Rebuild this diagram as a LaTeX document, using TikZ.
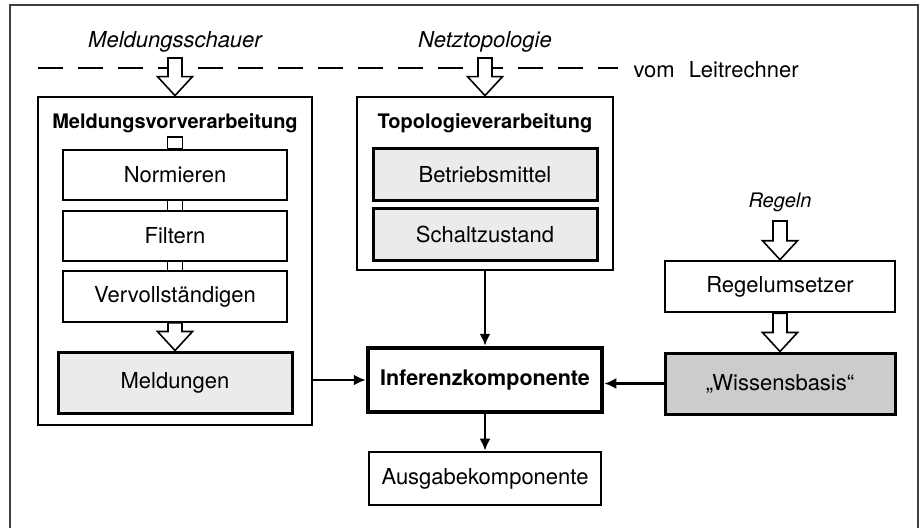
\documentclass[tikz,border=0pt]{standalone}
\usepackage{fontspec}
\setmainfont{TeX Gyre Heros}
\usetikzlibrary{arrows.meta,calc}

\newcommand{\hollowarrow}[2]{%
  \path (#2) coordinate (hatip) (hatip |- #1) coordinate (hatop);
  \draw[line width=1.6pt,fill=white,line join=miter] ($(hatop)+(-7,0)$) -- ($(hatip)+(-7,-19)$) -- ($(hatip)+(-17.5,-19)$) -- (hatip)
    -- ($(hatip)+(17.5,-19)$) -- ($(hatip)+(7,-19)$) -- ($(hatop)+(7,0)$) -- cycle;}

\begin{document}
\begin{tikzpicture}[x=1pt,y=-1pt,
  txt/.style={font=\fontsize{22}{26}\selectfont},
  ital/.style={font=\fontsize{22}{26}\selectfont\itshape},
  ttl/.style={font=\fontsize{20}{24}\selectfont\bfseries},
  outer/.style={draw,line width=2.8pt,inner sep=0pt},
  inner/.style={draw,line width=1.8pt,inner sep=0pt,txt},
  store/.style={draw,line width=3pt,inner sep=0pt,txt,fill=black!8},
  flow/.style={line width=2.5pt,-{Latex[length=12pt,width=11pt]}}]
\useasboundingbox (0,0) rectangle (923,528);
\draw[line width=1.5pt,black!75] (10,528) |- (918,5) -- (918,528);
\draw[line width=1.8pt,dash pattern=on 25pt off 15pt] (38,68) -- (618,68);
\node[txt,anchor=west] (vom) at (630,70) {vom\hspace{14pt}Leitrechner};
\node[ital] (schauer) at (175,42) {Meldungsschauer};
\node[ital] (netz) at (485,42) {Netztopologie};
\node[ital,font=\fontsize{20}{24}\selectfont\itshape] (regeln) at (780,202) {Regeln};
\coordinate (schauerin) at (175,58);
\coordinate (netzin) at (485,58);
\coordinate (regelnin) at (780,221);
\node[outer,minimum width=274,minimum height=328] (mvv) at (175,261) {};
\node[ttl] (mvvtitle) at (175,123) {Meldungsvorverarbeitung};
\node[inner,minimum width=224,minimum height=50] (norm) at (175,175) {Normieren};
\node[inner,minimum width=224,minimum height=50] (filt) at (175,236) {Filtern};
\node[inner,minimum width=224,minimum height=51] (verv) at (175,296.5) {Vervollständigen};
\node[store,minimum width=234,minimum height=61] (meld) at (175,382.5) {Meldungen};
\node[outer,minimum width=256,minimum height=173] (tvv) at (485,183.5) {};
\node[ttl] (tvvtitle) at (485,123) {Topologieverarbeitung};
\node[store,minimum width=224,minimum height=52] (betr) at (485,174.5) {Betriebsmittel};
\node[store,minimum width=224,minimum height=52] (schalt) at (485,234) {Schaltzustand};
\node[draw,line width=4.5pt,inner sep=0pt,minimum width=234,minimum height=64,font=\fontsize{21.5}{26}\selectfont\bfseries] (inf) at (485,380) {Inferenzkomponente};
\node[inner,line width=2.6pt,minimum width=232,minimum height=53] (ausg) at (485,478.5) {Ausgabekomponente};
\node[inner,line width=2.6pt,minimum width=230,minimum height=51] (regu) at (780,286.5) {Regelumsetzer};
\node[store,fill=black!20,minimum width=230,minimum height=61] (wiss) at (780,383.5) {„Wissensbasis“};
\draw[line width=1.6pt] ([xshift=-7.5pt]norm.north) rectangle ++(15,-12);
\foreach \a/\b in {norm/filt,filt/verv} {
  \draw[line width=1.6pt] ([xshift=-7.5pt]\a.south) -- ([xshift=-7.5pt]\b.north);
  \draw[line width=1.6pt] ([xshift=7.5pt]\a.south) -- ([xshift=7.5pt]\b.north);
}
\hollowarrow{schauerin}{mvv.north}
\hollowarrow{netzin}{tvv.north}
\hollowarrow{verv.south}{meld.north}
\hollowarrow{regelnin}{regu.north}
\hollowarrow{regu.south}{wiss.north}
\draw[flow] (mvv.east |- inf.west) -- (inf.west);
\draw[flow] (wiss.west) -- (inf.east |- wiss.west);
\draw[flow] (tvv.south) -- (inf.north);
\draw[flow] (inf.south) -- (ausg.north);
\end{tikzpicture}
\end{document}
